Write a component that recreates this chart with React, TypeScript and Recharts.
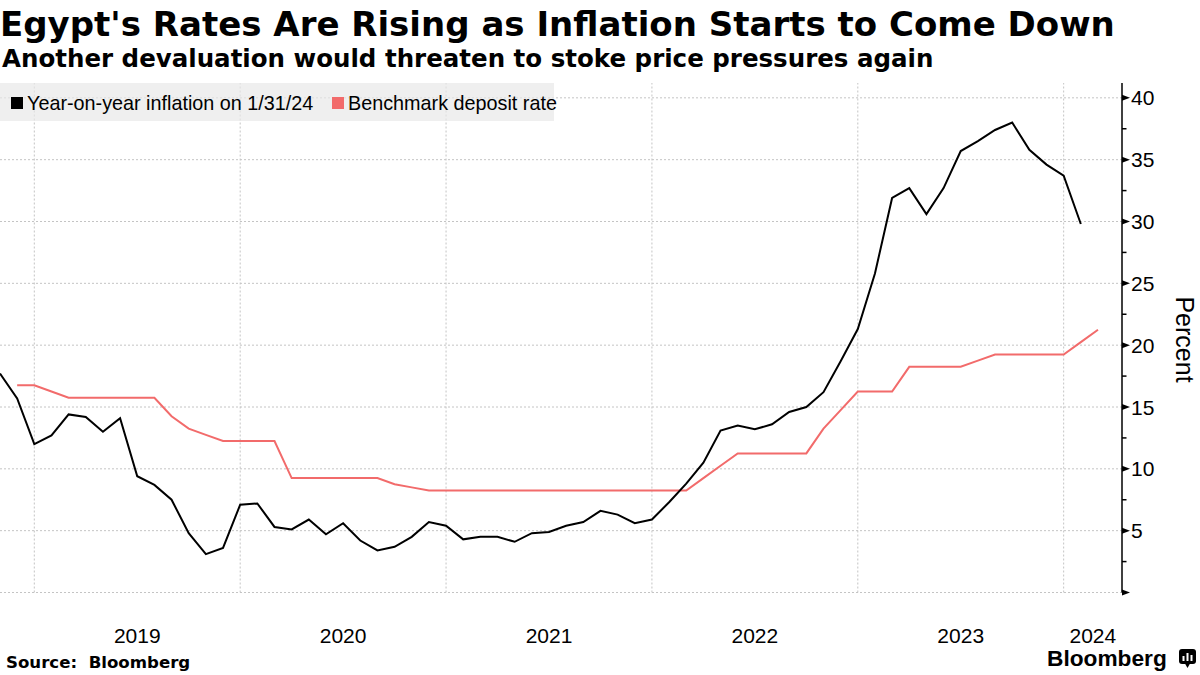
import React from "react"
import { LineChart, Line, XAxis, YAxis, ReferenceLine } from "recharts"

// Month-end observations, Oct 2018 to Feb 2024
const months = [
  "Oct 2018", "Nov 2018", "Dec 2018",
  "Jan 2019", "Feb 2019", "Mar 2019", "Apr 2019", "May 2019", "Jun 2019",
  "Jul 2019", "Aug 2019", "Sep 2019", "Oct 2019", "Nov 2019", "Dec 2019",
  "Jan 2020", "Feb 2020", "Mar 2020", "Apr 2020", "May 2020", "Jun 2020",
  "Jul 2020", "Aug 2020", "Sep 2020", "Oct 2020", "Nov 2020", "Dec 2020",
  "Jan 2021", "Feb 2021", "Mar 2021", "Apr 2021", "May 2021", "Jun 2021",
  "Jul 2021", "Aug 2021", "Sep 2021", "Oct 2021", "Nov 2021", "Dec 2021",
  "Jan 2022", "Feb 2022", "Mar 2022", "Apr 2022", "May 2022", "Jun 2022",
  "Jul 2022", "Aug 2022", "Sep 2022", "Oct 2022", "Nov 2022", "Dec 2022",
  "Jan 2023", "Feb 2023", "Mar 2023", "Apr 2023", "May 2023", "Jun 2023",
  "Jul 2023", "Aug 2023", "Sep 2023", "Oct 2023", "Nov 2023", "Dec 2023",
  "Jan 2024", "Feb 2024",
]

const inflation = [
  17.7, 15.7, 12.0,
  12.7, 14.4, 14.2, 13.0, 14.1, 9.4, 8.7, 7.5, 4.8, 3.1, 3.6, 7.1,
  7.2, 5.3, 5.1, 5.9, 4.7, 5.6, 4.2, 3.4, 3.7, 4.5, 5.7, 5.4,
  4.3, 4.5, 4.5, 4.1, 4.8, 4.9, 5.4, 5.7, 6.6, 6.3, 5.6, 5.9,
  7.3, 8.8, 10.5, 13.1, 13.5, 13.2, 13.6, 14.6, 15.0, 16.2, 18.7, 21.3,
  25.8, 31.9, 32.7, 30.6, 32.7, 35.7, 36.5, 37.4, 38.0, 35.8, 34.6, 33.7,
  29.8, null,
]

const depositRate = [
  null, 16.75, 16.75,
  16.25, 15.75, 15.75, 15.75, 15.75, 15.75, 15.75, 14.25, 13.25, 12.75, 12.25, 12.25,
  12.25, 12.25, 9.25, 9.25, 9.25, 9.25, 9.25, 9.25, 8.75, 8.5, 8.25, 8.25,
  8.25, 8.25, 8.25, 8.25, 8.25, 8.25, 8.25, 8.25, 8.25, 8.25, 8.25, 8.25,
  8.25, 8.25, 9.25, 10.25, 11.25, 11.25, 11.25, 11.25, 11.25, 13.25, 14.75, 16.25,
  16.25, 16.25, 18.25, 18.25, 18.25, 18.25, 18.75, 19.25, 19.25, 19.25, 19.25, 19.25,
  20.25, 21.25,
]

const yearLabels = ["2019", "2020", "2021", "2022", "2023", "2024"]
const yTicks = [0, 2.5, 5, 7.5, 10, 12.5, 15, 17.5, 20, 22.5, 25, 27.5, 30, 32.5, 35, 37.5, 40]

const X_MAX = 65.4
const Y_MAX = 41.2

const data = months.map((m, i) => ({
  i,
  month: m,
  inflation: inflation[i],
  rate: depositRate[i],
}))

// year boundaries sit on the December month-end points
const yearLines = yearLabels.map((y) => months.indexOf(`Dec ${Number(y) - 1}`))
// labels centred mid-year; the last one between its boundary and the axis end
const yearTickPos = yearLabels.map((y, k) => {
  const jun = months.indexOf(`Jun ${y}`)
  return jun >= 0 ? jun : (yearLines[k] + X_MAX) / 2
})

const gridLines = yTicks.filter((v) => v % 5 === 0)

const BLACK = "#000000"
const RED = "#f26b6b"
const GRID = "#c4c4c4"
const SANS = "'Liberation Sans', Arial, sans-serif"
const BOLD = "'DejaVu Sans', Verdana, sans-serif"

function YTick(props: any) {
  const { x, y, payload } = props
  const v = payload.value
  if (v % 5 !== 0) {
    return <line x1={x} x2={x + 4.5} y1={y} y2={y} stroke={BLACK} strokeWidth={1.5} />
  }
  return (
    <g>
      <path d={`M${x},${y - 3} L${x + 8},${y} L${x},${y + 3} Z`} fill={BLACK} />
      {v !== 0 && (
        <text x={x + 9} y={y + 7.5} fontSize={21} fontFamily={SANS} fill={BLACK}>
          {v}
        </text>
      )}
    </g>
  )
}

function XTick(props: any) {
  const { x, y, payload } = props
  const k = yearTickPos.indexOf(payload.value)
  return (
    <text x={x} y={y + 50.5} textAnchor="middle" fontSize={21} fontFamily={SANS} fill={BLACK}>
      {yearLabels[k]}
    </text>
  )
}

export default function App() {
  return (
    <div style={{ position: "absolute", left: 0, top: 0, width: 1200, height: 675, background: "#fff", overflow: "hidden" }}>
      <LineChart width={1200} height={675} data={data} margin={{ top: 83, right: 0, bottom: 0, left: 0 }}>
        <XAxis
          dataKey="i"
          type="number"
          domain={[0, X_MAX]}
          allowDataOverflow
          ticks={yearTickPos}
          interval={0}
          axisLine={false}
          tickLine={false}
          tickSize={0}
          tickMargin={0}
          height={82.5}
          tick={<XTick />}
        />
        <YAxis
          orientation="right"
          domain={[0, Y_MAX]}
          allowDataOverflow
          ticks={yTicks}
          interval={0}
          width={78}
          axisLine={{ stroke: BLACK, strokeWidth: 1.5 }}
          tickLine={false}
          tickSize={0}
          tickMargin={0}
          tick={<YTick />}
        />
        {gridLines.map((v) => (
          <ReferenceLine key={`h${v}`} y={v} stroke={GRID} strokeDasharray="2 2" strokeWidth={1} />
        ))}
        {yearLines.map((v) => (
          <ReferenceLine key={`v${v}`} x={v} stroke={GRID} strokeDasharray="2 2" strokeWidth={1} />
        ))}
        <Line type="linear" dataKey="rate" stroke={RED} strokeWidth={2} dot={false} isAnimationActive={false} />
        <Line type="linear" dataKey="inflation" stroke={BLACK} strokeWidth={2} dot={false} isAnimationActive={false} />
      </LineChart>

      <svg width={1200} height={675} style={{ position: "absolute", left: 0, top: 0, pointerEvents: "none" }}>
        <text x={0} y={36} fontSize={34} fontWeight="bold" fontFamily={BOLD} fill={BLACK}>
          Egypt's Rates Are Rising as Inflation Starts to Come Down
        </text>
        <text x={2} y={66.5} fontSize={24.5} fontWeight="bold" fontFamily={BOLD} fill={BLACK}>
          Another devaluation would threaten to stoke price pressures again
        </text>

        <rect x={0} y={83} width={554} height={38} fill="rgba(232,232,232,0.7)" />
        <rect x={11} y={97} width={12} height={12} fill={BLACK} />
        <text x={27} y={109.5} fontSize={19.8} fontFamily={SANS} fill={BLACK}>
          Year-on-year inflation on 1/31/24
        </text>
        <rect x={332} y={97} width={12} height={12} fill={RED} />
        <text x={348} y={109.5} fontSize={19.8} fontFamily={SANS} fill={BLACK}>
          Benchmark deposit rate
        </text>

        <text transform="translate(1176,339.5) rotate(90)" textAnchor="middle" fontSize={25} fontFamily={SANS} fill={BLACK}>
          Percent
        </text>

        <text x={6} y={668} fontSize={16.6} fontWeight="bold" fontFamily={BOLD} fill={BLACK}>
          {"Source:\u00A0 Bloomberg"}
        </text>

        <text x={1047} y={666} fontSize={22.7} fontWeight="bold" fontFamily={SANS} fill={BLACK}>
          Bloomberg
        </text>
        <rect x={1179} y={649} width={17} height={15} rx={3} fill={BLACK} />
        <path d="M1185,663.5 L1187.5,668 L1190,663.5 Z" fill={BLACK} />
        <rect x={1182.5} y={656} width={2} height={5} fill="#fff" />
        <rect x={1186.5} y={653} width={2} height={8} fill="#fff" />
        <rect x={1190.5} y={655} width={2} height={6} fill="#fff" />
      </svg>
    </div>
  )
}
